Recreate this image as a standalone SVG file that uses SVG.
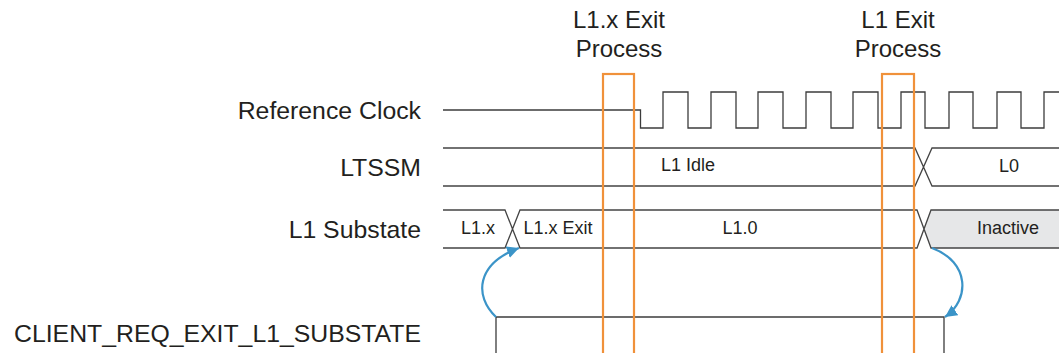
<svg xmlns="http://www.w3.org/2000/svg" width="1059" height="353" viewBox="0 0 1059 353">
  <style>
    .lbl{font-family:"Liberation Sans",Arial,sans-serif;font-size:24.8px;fill:#231F20}
    .sm{font-family:"Liberation Sans",Arial,sans-serif;font-size:18px;fill:#231F20;text-anchor:middle}
    .ttl{font-family:"Liberation Sans",Arial,sans-serif;font-size:24px;fill:#231F20;text-anchor:middle}
    .wave{fill:none;stroke:#3C3C3C;stroke-width:1.3}
    .bus{fill:none;stroke:#444;stroke-width:1.3}
    .win{fill:none;stroke:#F0913A;stroke-width:2.2}
    .arr{fill:none;stroke:#3B94C8;stroke-width:2.2}
  </style>
  <defs>
    <marker id="ah" markerUnits="userSpaceOnUse" markerWidth="14" markerHeight="14" refX="12" refY="6" orient="auto">
      <path d="M0,0 L12,6 L0,12 Z" fill="#3B94C8"/>
    </marker>
  </defs>
  <rect width="1059" height="353" fill="#fff"/>

  <g id="refclk">
    <text class="lbl" x="421" y="119" text-anchor="end">Reference Clock</text>
    <path class="wave" d="M443,110 H640.5 V128 H663 V92 H688 V128 H711 V92 H736 V128 H758 V92 H783 V128 H806 V92 H831 V128 H853 V92 H878 V128 H901 V92 H925 V128 H949 V92 H973 V128 H997 V92 H1021 V128 H1044 V92 H1059"/>
  </g>

  <g id="ltssm">
    <text class="lbl" x="421" y="176" text-anchor="end">LTSSM</text>
    <path class="bus" d="M443,148 H915 L932,186 H1059 M443,186 H915 L932,148 H1059"/>
    <text class="sm" x="688" y="171">L1 Idle</text>
    <text class="sm" x="1009" y="172">L0</text>
  </g>

  <g id="l1substate">
    <text class="lbl" x="421" y="238" text-anchor="end">L1 Substate</text>
    <path d="M931,210 H1059 V248 H931 L924,229 Z" fill="#E6E7E8"/>
    <path class="bus" d="M443,210 H505 L520,248 H917 L931,210 H1059 M443,248 H505 L520,210 H917 L931,248 H1059"/>
    <text class="sm" x="478" y="234">L1.x</text>
    <text class="sm" x="558" y="234">L1.x Exit</text>
    <text class="sm" x="740" y="234">L1.0</text>
    <text class="sm" x="1008" y="234">Inactive</text>
  </g>

  <g id="client_req">
    <text class="lbl" x="421" y="342" text-anchor="end">CLIENT_REQ_EXIT_L1_SUBSTATE</text>
    <path class="wave" stroke="#555" d="M496,353 V317 H944 V353"/>
  </g>

  <g id="l1x_exit_window">
    <text class="ttl" x="619" y="28">L1.x Exit</text>
    <text class="ttl" x="619" y="57">Process</text>
    <rect class="win" x="603" y="74" width="31" height="290"/>
  </g>

  <g id="l1_exit_window">
    <text class="ttl" x="898" y="28">L1 Exit</text>
    <text class="ttl" x="898" y="57">Process</text>
    <rect class="win" x="882" y="74" width="32" height="290"/>
  </g>

  <g id="connectors">
    <path class="arr" d="M496,317 C474,296 476,264 519,248" marker-end="url(#ah)"/>
    <path class="arr" d="M932,248 C970,262 970,300 945,317" marker-end="url(#ah)"/>
  </g>
</svg>
